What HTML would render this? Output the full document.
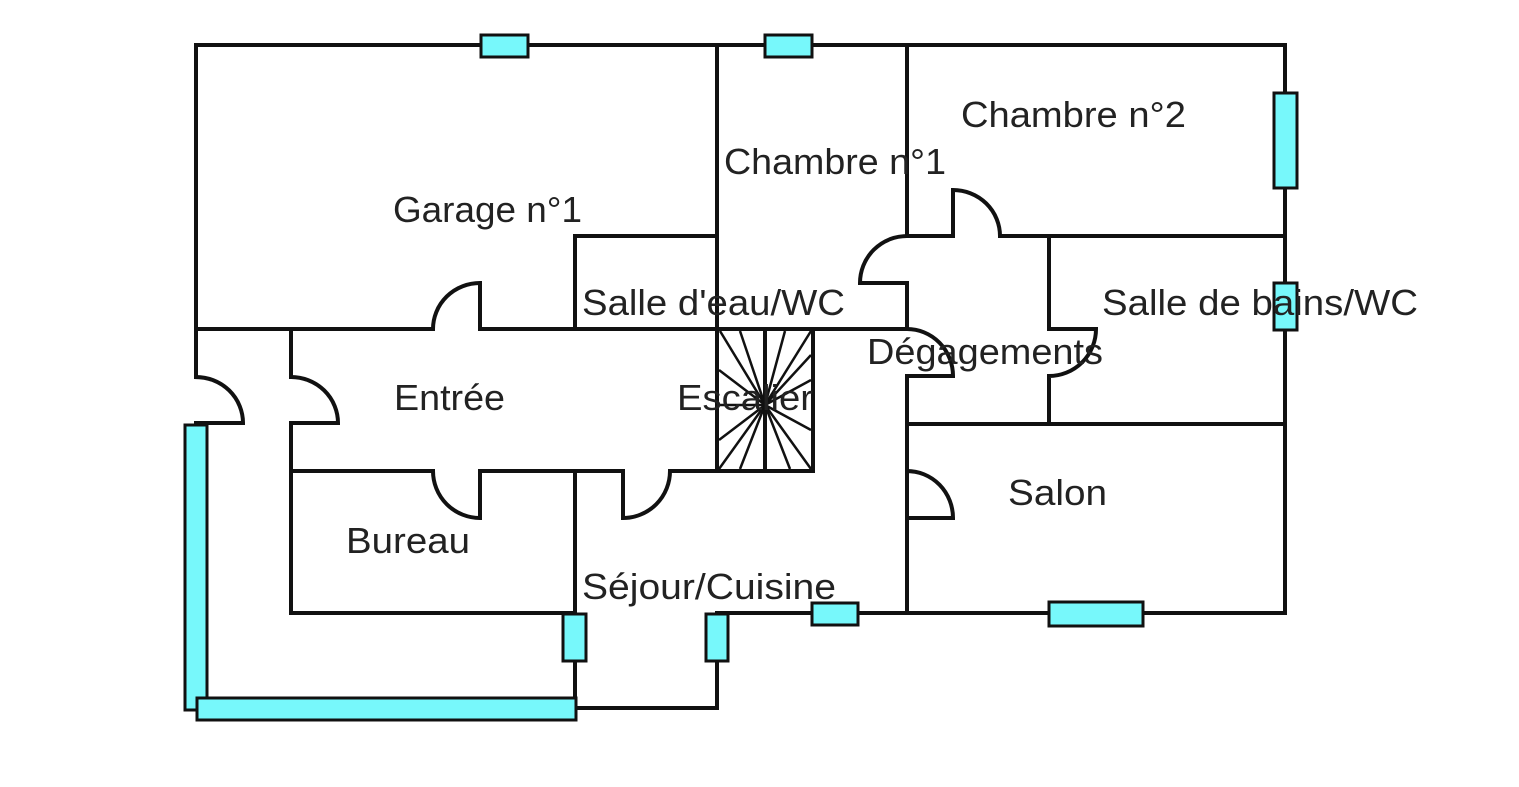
<!DOCTYPE html>
<html><head><meta charset="utf-8"><style>html,body{margin:0;padding:0;background:#fff}svg{display:block}</style></head><body>
<svg width="1519" height="787" viewBox="0 0 1519 787" xmlns="http://www.w3.org/2000/svg">
<g fill="none" stroke="#111" stroke-width="4" stroke-linecap="square">
<path d="M196 45 H1285 V613"/>
<path d="M196 45 V377"/>
<path d="M196 377 A47 46 0 0 1 243 423 H196"/>
<path d="M196 329 H433 A47 46 0 0 1 480 283 V329 H907"/>
<path d="M291 329 V377 A47 46 0 0 1 338 423 H291 V613 H575"/>
<path d="M291 471 H433 A47 47 0 0 0 480 518 V471 H623 V518 A47 47 0 0 0 670 471 H813"/>
<path d="M575 471 V708 H717 V613 H1285"/>
<path d="M575 329 V236 H717"/>
<path d="M717 45 V471"/>
<path d="M717 329 H813 V471 M765 329 V471"/>
<path d="M907 45 V236 H953 V190 A47 46 0 0 1 1000 236 H1285"/>
<path d="M907 236 A47 47 0 0 0 860 283 H907 V329 A46 47 0 0 1 953 376 H907 V613"/>
<path d="M907 424 H1285"/>
<path d="M1049 236 V329 H1096 A47 47 0 0 1 1049 376 V424"/>
<path d="M907 471 A46 47 0 0 1 953 518 H907"/>
</g>
<g stroke="#111" stroke-width="2.5">
<line x1="765" y1="405" x2="720" y2="331"/><line x1="765" y1="405" x2="740" y2="331"/>
<line x1="765" y1="405" x2="785" y2="331"/><line x1="765" y1="405" x2="811" y2="331"/>
<line x1="765" y1="405" x2="811" y2="355"/><line x1="765" y1="405" x2="811" y2="380"/>
<line x1="765" y1="405" x2="811" y2="430"/><line x1="765" y1="405" x2="811" y2="469"/>
<line x1="765" y1="405" x2="790" y2="469"/><line x1="765" y1="405" x2="740" y2="469"/>
<line x1="765" y1="405" x2="719" y2="469"/><line x1="765" y1="405" x2="719" y2="440"/>
<line x1="765" y1="405" x2="719" y2="405"/><line x1="765" y1="405" x2="719" y2="370"/>
</g>
<g fill="#77f8fb" stroke="#111" stroke-width="3">
<rect x="481" y="35" width="47" height="22"/>
<rect x="765" y="35" width="47" height="22"/>
<rect x="1274" y="93" width="23" height="95"/>
<rect x="1274" y="283" width="23" height="47"/>
<rect x="185" y="425" width="22" height="285"/>
<rect x="197" y="698" width="379" height="22"/>
<rect x="563" y="614" width="23" height="47"/>
<rect x="706" y="614" width="22" height="47"/>
<rect x="812" y="603" width="46" height="22"/>
<rect x="1049" y="602" width="94" height="24"/>
</g>
<g font-family="Liberation Sans, Arial, sans-serif" font-size="36" fill="#222" lengthAdjust="spacingAndGlyphs">
<text x="393" y="222" textLength="189" lengthAdjust="spacingAndGlyphs">Garage n°1</text>
<text x="724" y="174" textLength="222" lengthAdjust="spacingAndGlyphs">Chambre n°1</text>
<text x="961" y="127" textLength="225" lengthAdjust="spacingAndGlyphs">Chambre n°2</text>
<text x="582" y="315" textLength="263" lengthAdjust="spacingAndGlyphs">Salle d'eau/WC</text>
<text x="1102" y="315" textLength="316" lengthAdjust="spacingAndGlyphs">Salle de bains/WC</text>
<text x="867" y="364" textLength="236" lengthAdjust="spacingAndGlyphs">Dégagements</text>
<text x="394" y="410" textLength="111" lengthAdjust="spacingAndGlyphs">Entrée</text>
<text x="677" y="410" textLength="136" lengthAdjust="spacingAndGlyphs">Escalier</text>
<text x="1008" y="505" textLength="99" lengthAdjust="spacingAndGlyphs">Salon</text>
<text x="346" y="553" textLength="124" lengthAdjust="spacingAndGlyphs">Bureau</text>
<text x="582" y="599" textLength="254" lengthAdjust="spacingAndGlyphs">Séjour/Cuisine</text>
</g>
</svg>
</body></html>
